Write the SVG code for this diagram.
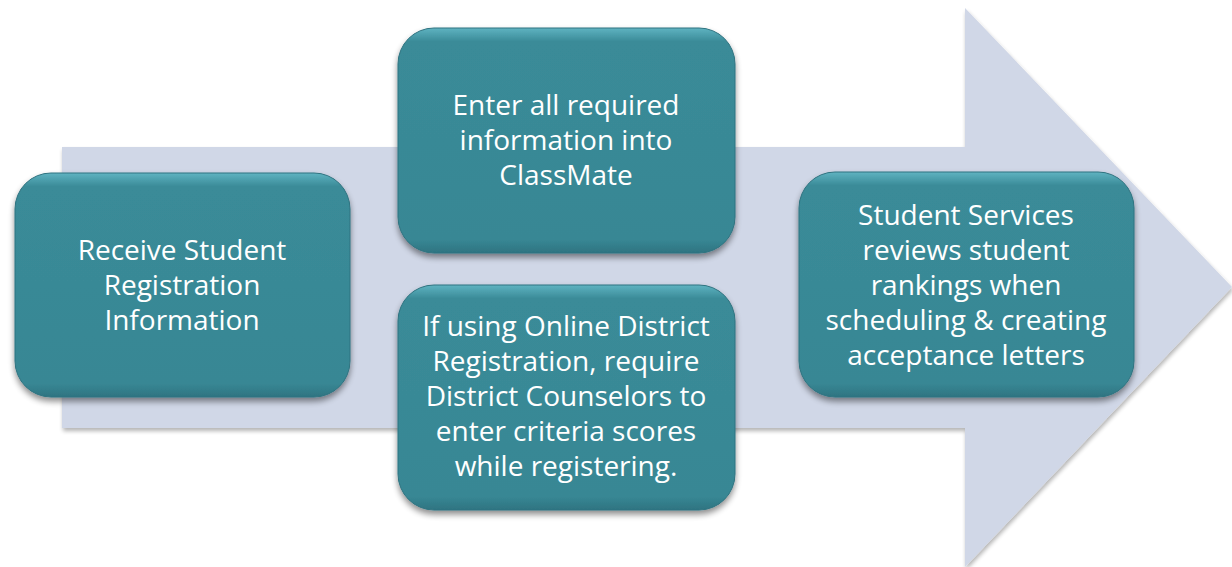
<svg xmlns="http://www.w3.org/2000/svg" width="1232" height="567" viewBox="0 0 1232 567">
<defs>
<linearGradient id="boxg" x1="0" y1="0" x2="0" y2="1">
<stop offset="0" stop-color="#5fb3c1"/>
<stop offset="0.06" stop-color="#3a8b98"/>
<stop offset="0.94" stop-color="#388794"/>
<stop offset="1" stop-color="#2e7481"/>
</linearGradient>
<filter id="sh" x="-10%" y="-10%" width="120%" height="125%">
<feGaussianBlur in="SourceAlpha" stdDeviation="3"/>
<feOffset dx="0" dy="4" result="b"/>
<feComponentTransfer><feFuncA type="linear" slope="0.45"/></feComponentTransfer>
<feMerge><feMergeNode/><feMergeNode in="SourceGraphic"/></feMerge>
</filter>
<filter id="ash" x="-5%" y="-5%" width="110%" height="110%">
<feGaussianBlur in="SourceAlpha" stdDeviation="2"/>
<feOffset dx="1" dy="3"/>
<feComponentTransfer><feFuncA type="linear" slope="0.3"/></feComponentTransfer>
<feMerge><feMergeNode/><feMergeNode in="SourceGraphic"/></feMerge>
</filter>
</defs>
<style>
.box{fill:url(#boxg);stroke:#2f7380;stroke-width:1;filter:url(#sh);}
.t{font-family:"Open Sans","Noto Sans",sans-serif;font-size:28px;fill:#ffffff;text-anchor:middle;}
</style>
<rect width="1232" height="567" fill="#ffffff"/>
<g id="arrow">
<path d="M62,147 L965,147 L965,8 L1232,287 L965,567 L965,428 L62,428 Z" fill="#d0d7e7" filter="url(#ash)"/>
</g>
<g id="connectors"></g>
<g id="node1">
<rect class="box" x="15" y="173" width="335" height="224" rx="36"/>
<text class="t" x="182" y="260">Receive Student</text>
<text class="t" x="182" y="295">Registration</text>
<text class="t" x="182" y="330">Information</text>
</g>
<g id="node2">
<rect class="box" x="398" y="28" width="337" height="225" rx="36"/>
<text class="t" x="566" y="115">Enter all required</text>
<text class="t" x="566" y="150">information into</text>
<text class="t" x="566" y="185">ClassMate</text>
</g>
<g id="node3">
<rect class="box" x="398" y="285" width="337" height="225" rx="36"/>
<text class="t" x="566" y="336">If using Online District</text>
<text class="t" x="566" y="371">Registration, require</text>
<text class="t" x="566" y="406">District Counselors to</text>
<text class="t" x="566" y="441">enter criteria scores</text>
<text class="t" x="566" y="476">while registering.</text>
</g>
<g id="node4">
<rect class="box" x="799" y="172" width="335" height="225" rx="36"/>
<text class="t" x="966" y="225">Student Services</text>
<text class="t" x="966" y="260">reviews student</text>
<text class="t" x="966" y="295">rankings when</text>
<text class="t" x="966" y="330">scheduling &amp; creating</text>
<text class="t" x="966" y="365">acceptance letters</text>
</g>
</svg>
